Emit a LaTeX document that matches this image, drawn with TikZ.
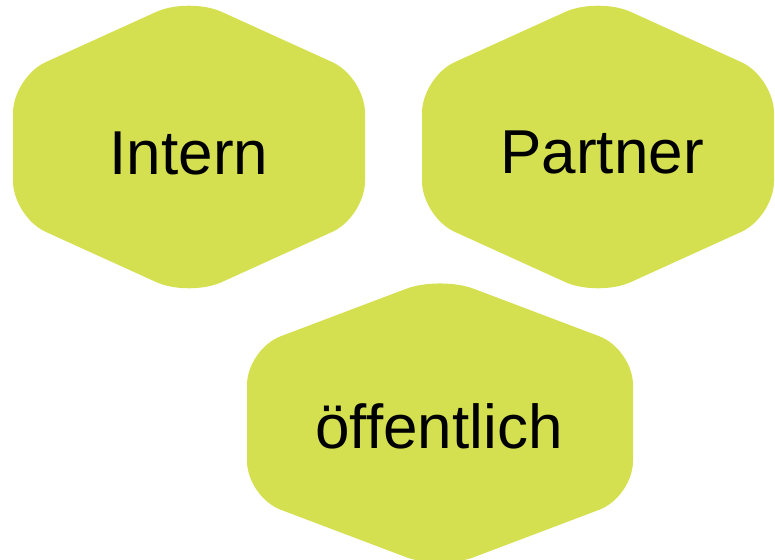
\documentclass[tikz,border=0pt]{standalone}
\usepackage{fontspec}
\setmainfont{Liberation Sans}
\definecolor{hexgreen}{RGB}{212,224,80}
\begin{document}
\begin{tikzpicture}[x=1pt,y=-1pt,
  hexfill/.style={fill=hexgreen, draw=none, rounded corners=36pt},
  label/.style={font=\fontsize{62}{70}\selectfont, text=black, inner sep=0pt, anchor=base}]
\useasboundingbox (0,0) rectangle (775,559);
% Intern
\fill[hexfill] (189,-3) -- (365,77) -- (365,217) -- (189,297) -- (13,217) -- (13,77) -- cycle;
% Partner
\fill[hexfill] (598,-3) -- (774,77) -- (774,217) -- (598,297) -- (422,217) -- (422,77) -- cycle;
% oeffentlich
\fill[hexfill] (440,276) -- (633,349) -- (633,497) -- (440,570) -- (247,497) -- (247,349) -- cycle;
\node[label] (intern) at (189,174) {Intern};
\node[label] (partner) at (602,173) {Partner};
\node[label] (oeff) at (439,448) {öffentlich};
\end{tikzpicture}
\end{document}
